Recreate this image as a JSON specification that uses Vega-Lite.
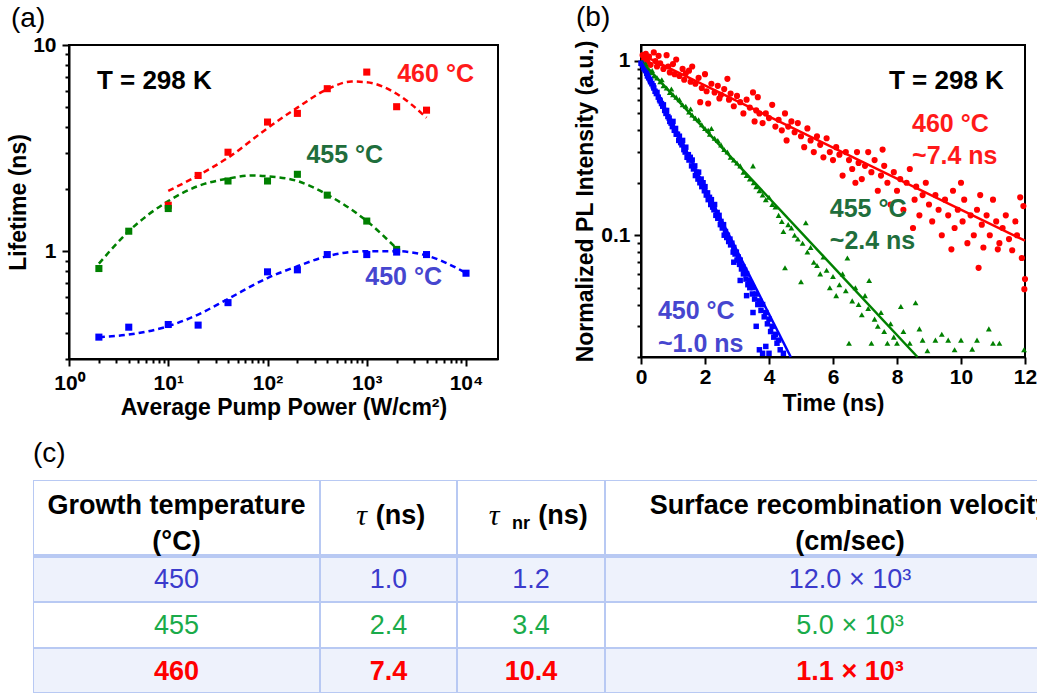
{
  "$schema": "https://vega.github.io/schema/vega-lite/v6.json",
  "padding": {"left": 6, "top": 2, "right": 0, "bottom": 0},
  "background": "white",
  "config": {
    "font": "Liberation Sans",
    "view": {"stroke": "#000", "strokeWidth": 2},
    "axis": {"domainColor": "#000", "domainWidth": 2, "tickColor": "#000", "tickWidth": 2, "labelColor": "#000", "titleColor": "#000", "labelFont": "Liberation Sans", "titleFont": "Liberation Sans", "labelFontSize": 21, "titleFontSize": 23, "labelFontWeight": "bold", "titleFontWeight": "bold", "grid": false, "labelOverlap": false, "labelFlush": false, "labelBound": false},
    "title": {"font": "Liberation Sans", "fontSize": 28, "fontWeight": "normal", "color": "#000"}
  },
  "datasets": {
    "aPts": [
      {"s": "460 °C", "p": 10, "tau": 1.67}, {"s": "460 °C", "p": 20, "tau": 2.33}, {"s": "460 °C", "p": 40, "tau": 3.02}, {"s": "460 °C", "p": 100, "tau": 4.23}, {"s": "460 °C", "p": 200, "tau": 4.66}, {"s": "460 °C", "p": 400, "tau": 6.14}, {"s": "460 °C", "p": 1000, "tau": 7.39}, {"s": "460 °C", "p": 2000, "tau": 5.02}, {"s": "460 °C", "p": 4000, "tau": 4.83},
      {"s": "455 °C", "p": 2, "tau": 0.824}, {"s": "455 °C", "p": 4, "tau": 1.25}, {"s": "455 °C", "p": 10, "tau": 1.61}, {"s": "455 °C", "p": 40, "tau": 2.19}, {"s": "455 °C", "p": 100, "tau": 2.19}, {"s": "455 °C", "p": 200, "tau": 2.36}, {"s": "455 °C", "p": 400, "tau": 1.87}, {"s": "455 °C", "p": 1000, "tau": 1.4}, {"s": "455 °C", "p": 2000, "tau": 1.02},
      {"s": "450 °C", "p": 2, "tau": 0.383}, {"s": "450 °C", "p": 4, "tau": 0.428}, {"s": "450 °C", "p": 10, "tau": 0.441}, {"s": "450 °C", "p": 20, "tau": 0.438}, {"s": "450 °C", "p": 40, "tau": 0.563}, {"s": "450 °C", "p": 100, "tau": 0.794}, {"s": "450 °C", "p": 200, "tau": 0.812}, {"s": "450 °C", "p": 400, "tau": 0.963}, {"s": "450 °C", "p": 1000, "tau": 0.963}, {"s": "450 °C", "p": 2000, "tau": 0.99}, {"s": "450 °C", "p": 4000, "tau": 0.963}, {"s": "450 °C", "p": 10000, "tau": 0.782}
    ],
    "aFit": [
      {"s": "460 °C", "p": 10, "tau": 1.96}, {"s": "460 °C", "p": 20, "tau": 2.33}, {"s": "460 °C", "p": 40, "tau": 2.84}, {"s": "460 °C", "p": 100, "tau": 3.95}, {"s": "460 °C", "p": 200, "tau": 4.97}, {"s": "460 °C", "p": 400, "tau": 6.1}, {"s": "460 °C", "p": 700, "tau": 6.65}, {"s": "460 °C", "p": 1000, "tau": 6.6}, {"s": "460 °C", "p": 2000, "tau": 5.8}, {"s": "460 °C", "p": 4000, "tau": 4.44},
      {"s": "455 °C", "p": 2, "tau": 0.87}, {"s": "455 °C", "p": 4, "tau": 1.25}, {"s": "455 °C", "p": 10, "tau": 1.75}, {"s": "455 °C", "p": 20, "tau": 2.07}, {"s": "455 °C", "p": 40, "tau": 2.25}, {"s": "455 °C", "p": 70, "tau": 2.33}, {"s": "455 °C", "p": 100, "tau": 2.31}, {"s": "455 °C", "p": 200, "tau": 2.19}, {"s": "455 °C", "p": 400, "tau": 1.88}, {"s": "455 °C", "p": 1000, "tau": 1.4}, {"s": "455 °C", "p": 2000, "tau": 1.03},
      {"s": "450 °C", "p": 2, "tau": 0.383}, {"s": "450 °C", "p": 4, "tau": 0.394}, {"s": "450 °C", "p": 10, "tau": 0.433}, {"s": "450 °C", "p": 20, "tau": 0.493}, {"s": "450 °C", "p": 40, "tau": 0.587}, {"s": "450 °C", "p": 100, "tau": 0.741}, {"s": "450 °C", "p": 200, "tau": 0.845}, {"s": "450 °C", "p": 400, "tau": 0.946}, {"s": "450 °C", "p": 1000, "tau": 1.0}, {"s": "450 °C", "p": 2000, "tau": 1.0}, {"s": "450 °C", "p": 4000, "tau": 0.953}, {"s": "450 °C", "p": 10000, "tau": 0.785}
    ],
    "aLbl": [
      {"s": "460 °C", "p": 2027, "tau": 7.22, "label": "460 °C"},
      {"s": "455 °C", "p": 246.6, "tau": 2.92, "label": "455 °C"},
      {"s": "450 °C", "p": 966, "tau": 0.748, "label": "450 °C"}
    ],
    "bFit": [
      {"s": "460 °C", "t": 0, "i": 1.09}, {"s": "460 °C", "t": 12, "i": 0.093},
      {"s": "455 °C", "t": 0, "i": 1.0}, {"s": "455 °C", "t": 8.64, "i": 0.02},
      {"s": "450 °C", "t": 0, "i": 1.0}, {"s": "450 °C", "t": 4.68, "i": 0.02}
    ],
    "bLbl": [
      {"s": "460 °C", "t": 8.47, "i": 0.435, "label": "460 °C"},
      {"s": "460 °C", "t": 8.47, "i": 0.285, "label": "~7.4 ns"},
      {"s": "455 °C", "t": 5.9, "i": 0.1415, "label": "455 °C"},
      {"s": "455 °C", "t": 5.9, "i": 0.0927, "label": "~2.4 ns"},
      {"s": "450 °C", "t": 0.53, "i": 0.0368, "label": "450 °C"},
      {"s": "450 °C", "t": 0.53, "i": 0.0238, "label": "~1.0 ns"}
    ],
    "bPts": [
      {"s":"460 °C","t":0.05,"i":1.08},{"s":"460 °C","t":0.1,"i":1.02},{"s":"460 °C","t":0.15,"i":1.1},{"s":"460 °C","t":0.2,"i":0.99},{"s":"460 °C","t":0.25,"i":1.06},{"s":"460 °C","t":0.3,"i":0.95},{"s":"460 °C","t":0.4,"i":1.12},{"s":"460 °C","t":0.45,"i":1.0},{"s":"460 °C","t":0.5,"i":0.93},{"s":"460 °C","t":0.55,"i":1.07},{"s":"460 °C","t":0.6,"i":0.97},{"s":"460 °C","t":0.7,"i":0.9},{"s":"460 °C","t":0.8,"i":1.08},{"s":"460 °C","t":0.85,"i":0.93},{"s":"460 °C","t":0.9,"i":0.86},{"s":"460 °C","t":1.0,"i":0.96},{"s":"460 °C","t":1.05,"i":0.84},{"s":"460 °C","t":1.1,"i":1.02},{"s":"460 °C","t":1.2,"i":0.82},{"s":"460 °C","t":1.3,"i":0.9},{"s":"460 °C","t":1.35,"i":0.78},{"s":"460 °C","t":1.4,"i":0.85},{"s":"460 °C","t":1.5,"i":0.88},{"s":"460 °C","t":1.55,"i":0.76},{"s":"460 °C","t":1.6,"i":0.93},{"s":"460 °C","t":1.7,"i":0.74},{"s":"460 °C","t":1.8,"i":0.8},{"s":"460 °C","t":1.85,"i":0.58},{"s":"460 °C","t":1.9,"i":0.7},{"s":"460 °C","t":2.0,"i":0.84},{"s":"460 °C","t":2.05,"i":0.67},{"s":"460 °C","t":2.1,"i":0.57},{"s":"460 °C","t":2.2,"i":0.74},{"s":"460 °C","t":2.3,"i":0.66},{"s":"460 °C","t":2.4,"i":0.72},{"s":"460 °C","t":2.45,"i":0.61},{"s":"460 °C","t":2.5,"i":0.64},{"s":"460 °C","t":2.6,"i":0.69},{"s":"460 °C","t":2.7,"i":0.79},{"s":"460 °C","t":2.75,"i":0.6},{"s":"460 °C","t":2.8,"i":0.65},{"s":"460 °C","t":2.9,"i":0.55},{"s":"460 °C","t":3.0,"i":0.63},{"s":"460 °C","t":3.1,"i":0.58},{"s":"460 °C","t":3.2,"i":0.5},{"s":"460 °C","t":3.3,"i":0.6},{"s":"460 °C","t":3.4,"i":0.54},{"s":"460 °C","t":3.5,"i":0.66},{"s":"460 °C","t":3.55,"i":0.45},{"s":"460 °C","t":3.6,"i":0.52},{"s":"460 °C","t":3.65,"i":0.62},{"s":"460 °C","t":3.7,"i":0.5},{"s":"460 °C","t":3.8,"i":0.44},{"s":"460 °C","t":3.9,"i":0.5},{"s":"460 °C","t":4.0,"i":0.47},{"s":"460 °C","t":4.1,"i":0.56},{"s":"460 °C","t":4.2,"i":0.42},{"s":"460 °C","t":4.3,"i":0.46},{"s":"460 °C","t":4.4,"i":0.4},{"s":"460 °C","t":4.5,"i":0.5},{"s":"460 °C","t":4.55,"i":0.35},{"s":"460 °C","t":4.6,"i":0.42},{"s":"460 °C","t":4.7,"i":0.45},{"s":"460 °C","t":4.8,"i":0.39},{"s":"460 °C","t":4.9,"i":0.44},{"s":"460 °C","t":5.0,"i":0.37},{"s":"460 °C","t":5.1,"i":0.32},{"s":"460 °C","t":5.2,"i":0.41},{"s":"460 °C","t":5.3,"i":0.35},{"s":"460 °C","t":5.4,"i":0.3},{"s":"460 °C","t":5.5,"i":0.37},{"s":"460 °C","t":5.6,"i":0.33},{"s":"460 °C","t":5.7,"i":0.28},{"s":"460 °C","t":5.8,"i":0.36},{"s":"460 °C","t":5.9,"i":0.3},{"s":"460 °C","t":6.0,"i":0.27},{"s":"460 °C","t":6.1,"i":0.32},{"s":"460 °C","t":6.2,"i":0.29},{"s":"460 °C","t":6.3,"i":0.22},{"s":"460 °C","t":6.4,"i":0.3},{"s":"460 °C","t":6.5,"i":0.27},{"s":"460 °C","t":6.6,"i":0.24},{"s":"460 °C","t":6.7,"i":0.2},{"s":"460 °C","t":6.75,"i":0.3},{"s":"460 °C","t":6.8,"i":0.26},{"s":"460 °C","t":6.9,"i":0.21},{"s":"460 °C","t":7.0,"i":0.25},{"s":"460 °C","t":7.1,"i":0.3},{"s":"460 °C","t":7.2,"i":0.23},{"s":"460 °C","t":7.3,"i":0.27},{"s":"460 °C","t":7.4,"i":0.18},{"s":"460 °C","t":7.5,"i":0.22},{"s":"460 °C","t":7.55,"i":0.31},{"s":"460 °C","t":7.6,"i":0.25},{"s":"460 °C","t":7.7,"i":0.2},{"s":"460 °C","t":7.8,"i":0.15},{"s":"460 °C","t":7.9,"i":0.23},{"s":"460 °C","t":8.0,"i":0.18},{"s":"460 °C","t":8.1,"i":0.21},{"s":"460 °C","t":8.2,"i":0.14},{"s":"460 °C","t":8.3,"i":0.2},{"s":"460 °C","t":8.4,"i":0.24},{"s":"460 °C","t":8.5,"i":0.11},{"s":"460 °C","t":8.55,"i":0.16},{"s":"460 °C","t":8.6,"i":0.19},{"s":"460 °C","t":8.7,"i":0.13},{"s":"460 °C","t":8.8,"i":0.17},{"s":"460 °C","t":8.9,"i":0.2},{"s":"460 °C","t":9.0,"i":0.15},{"s":"460 °C","t":9.1,"i":0.12},{"s":"460 °C","t":9.2,"i":0.17},{"s":"460 °C","t":9.3,"i":0.14},{"s":"460 °C","t":9.4,"i":0.1},{"s":"460 °C","t":9.5,"i":0.16},{"s":"460 °C","t":9.6,"i":0.13},{"s":"460 °C","t":9.7,"i":0.083},{"s":"460 °C","t":9.75,"i":0.18},{"s":"460 °C","t":9.8,"i":0.11},{"s":"460 °C","t":9.9,"i":0.14},{"s":"460 °C","t":10.0,"i":0.2},{"s":"460 °C","t":10.05,"i":0.12},{"s":"460 °C","t":10.1,"i":0.16},{"s":"460 °C","t":10.2,"i":0.09},{"s":"460 °C","t":10.3,"i":0.13},{"s":"460 °C","t":10.4,"i":0.1},{"s":"460 °C","t":10.5,"i":0.14},{"s":"460 °C","t":10.55,"i":0.065},{"s":"460 °C","t":10.6,"i":0.17},{"s":"460 °C","t":10.65,"i":0.115},{"s":"460 °C","t":10.7,"i":0.085},{"s":"460 °C","t":10.8,"i":0.13},{"s":"460 °C","t":10.9,"i":0.1},{"s":"460 °C","t":11.0,"i":0.16},{"s":"460 °C","t":11.1,"i":0.12},{"s":"460 °C","t":11.15,"i":0.083},{"s":"460 °C","t":11.2,"i":0.09},{"s":"460 °C","t":11.3,"i":0.11},{"s":"460 °C","t":11.4,"i":0.13},{"s":"460 °C","t":11.5,"i":0.095},{"s":"460 °C","t":11.6,"i":0.082},{"s":"460 °C","t":11.7,"i":0.12},{"s":"460 °C","t":11.75,"i":0.1},{"s":"460 °C","t":11.85,"i":0.165},{"s":"460 °C","t":11.9,"i":0.074},{"s":"460 °C","t":11.95,"i":0.147},{"s":"460 °C","t":12.0,"i":0.056},{"s":"460 °C","t":11.98,"i":0.049},
      {"s":"455 °C","t":0.05,"i":0.98},{"s":"455 °C","t":0.1,"i":0.93},{"s":"455 °C","t":0.15,"i":0.96},{"s":"455 °C","t":0.2,"i":0.9},{"s":"455 °C","t":0.3,"i":0.86},{"s":"455 °C","t":0.35,"i":0.88},{"s":"455 °C","t":0.4,"i":0.82},{"s":"455 °C","t":0.5,"i":0.8},{"s":"455 °C","t":0.6,"i":0.76},{"s":"455 °C","t":0.65,"i":0.78},{"s":"455 °C","t":0.7,"i":0.72},{"s":"455 °C","t":0.8,"i":0.7},{"s":"455 °C","t":0.9,"i":0.66},{"s":"455 °C","t":0.95,"i":0.69},{"s":"455 °C","t":1.0,"i":0.64},{"s":"455 °C","t":1.1,"i":0.62},{"s":"455 °C","t":1.2,"i":0.6},{"s":"455 °C","t":1.3,"i":0.56},{"s":"455 °C","t":1.4,"i":0.55},{"s":"455 °C","t":1.5,"i":0.51},{"s":"455 °C","t":1.55,"i":0.53},{"s":"455 °C","t":1.6,"i":0.49},{"s":"455 °C","t":1.7,"i":0.47},{"s":"455 °C","t":1.8,"i":0.46},{"s":"455 °C","t":1.9,"i":0.43},{"s":"455 °C","t":2.0,"i":0.41},{"s":"455 °C","t":2.1,"i":0.4},{"s":"455 °C","t":2.15,"i":0.38},{"s":"455 °C","t":2.2,"i":0.41},{"s":"455 °C","t":2.3,"i":0.36},{"s":"455 °C","t":2.4,"i":0.35},{"s":"455 °C","t":2.5,"i":0.33},{"s":"455 °C","t":2.6,"i":0.31},{"s":"455 °C","t":2.7,"i":0.3},{"s":"455 °C","t":2.8,"i":0.28},{"s":"455 °C","t":2.9,"i":0.27},{"s":"455 °C","t":3.0,"i":0.26},{"s":"455 °C","t":3.1,"i":0.25},{"s":"455 °C","t":3.2,"i":0.23},{"s":"455 °C","t":3.3,"i":0.22},{"s":"455 °C","t":3.4,"i":0.21},{"s":"455 °C","t":3.5,"i":0.25},{"s":"455 °C","t":3.52,"i":0.2},{"s":"455 °C","t":3.6,"i":0.19},{"s":"455 °C","t":3.7,"i":0.18},{"s":"455 °C","t":3.8,"i":0.17},{"s":"455 °C","t":3.9,"i":0.16},{"s":"455 °C","t":4.0,"i":0.165},{"s":"455 °C","t":4.1,"i":0.15},{"s":"455 °C","t":4.2,"i":0.145},{"s":"455 °C","t":4.3,"i":0.13},{"s":"455 °C","t":4.4,"i":0.12},{"s":"455 °C","t":4.45,"i":0.105},{"s":"455 °C","t":4.5,"i":0.065},{"s":"455 °C","t":4.6,"i":0.115},{"s":"455 °C","t":4.7,"i":0.11},{"s":"455 °C","t":4.8,"i":0.1},{"s":"455 °C","t":4.9,"i":0.095},{"s":"455 °C","t":5.0,"i":0.054},{"s":"455 °C","t":5.05,"i":0.09},{"s":"455 °C","t":5.15,"i":0.118},{"s":"455 °C","t":5.2,"i":0.08},{"s":"455 °C","t":5.3,"i":0.085},{"s":"455 °C","t":5.4,"i":0.07},{"s":"455 °C","t":5.5,"i":0.067},{"s":"455 °C","t":5.6,"i":0.06},{"s":"455 °C","t":5.7,"i":0.075},{"s":"455 °C","t":5.8,"i":0.063},{"s":"455 °C","t":5.9,"i":0.05},{"s":"455 °C","t":6.0,"i":0.058},{"s":"455 °C","t":6.1,"i":0.045},{"s":"455 °C","t":6.2,"i":0.052},{"s":"455 °C","t":6.3,"i":0.06},{"s":"455 °C","t":6.4,"i":0.048},{"s":"455 °C","t":6.45,"i":0.074},{"s":"455 °C","t":6.5,"i":0.024},{"s":"455 °C","t":6.6,"i":0.042},{"s":"455 °C","t":6.7,"i":0.05},{"s":"455 °C","t":6.8,"i":0.04},{"s":"455 °C","t":6.9,"i":0.035},{"s":"455 °C","t":7.0,"i":0.045},{"s":"455 °C","t":7.1,"i":0.038},{"s":"455 °C","t":7.13,"i":0.055},{"s":"455 °C","t":7.2,"i":0.024},{"s":"455 °C","t":7.3,"i":0.033},{"s":"455 °C","t":7.4,"i":0.03},{"s":"455 °C","t":7.5,"i":0.036},{"s":"455 °C","t":7.6,"i":0.028},{"s":"455 °C","t":7.7,"i":0.024},{"s":"455 °C","t":7.8,"i":0.031},{"s":"455 °C","t":7.9,"i":0.026},{"s":"455 °C","t":8.0,"i":0.024},{"s":"455 °C","t":8.12,"i":0.039},{"s":"455 °C","t":8.2,"i":0.028},{"s":"455 °C","t":8.4,"i":0.024},{"s":"455 °C","t":8.58,"i":0.041},{"s":"455 °C","t":8.7,"i":0.029},{"s":"455 °C","t":8.8,"i":0.025},{"s":"455 °C","t":8.95,"i":0.0217},{"s":"455 °C","t":9.2,"i":0.025},{"s":"455 °C","t":9.4,"i":0.027},{"s":"455 °C","t":9.6,"i":0.025},{"s":"455 °C","t":9.8,"i":0.022},{"s":"455 °C","t":10.0,"i":0.025},{"s":"455 °C","t":10.35,"i":0.0222},{"s":"455 °C","t":10.5,"i":0.025},{"s":"455 °C","t":10.87,"i":0.029},{"s":"455 °C","t":11.0,"i":0.024},{"s":"455 °C","t":11.2,"i":0.024},{"s":"455 °C","t":11.97,"i":0.022},
      {"s":"450 °C","t":0.0,"i":0.97},{"s":"450 °C","t":0.04,"i":0.95},{"s":"450 °C","t":0.08,"i":0.92},{"s":"450 °C","t":0.1,"i":0.9},{"s":"450 °C","t":0.14,"i":0.88},{"s":"450 °C","t":0.18,"i":0.85},{"s":"450 °C","t":0.2,"i":0.82},{"s":"450 °C","t":0.24,"i":0.8},{"s":"450 °C","t":0.28,"i":0.78},{"s":"450 °C","t":0.3,"i":0.76},{"s":"450 °C","t":0.34,"i":0.74},{"s":"450 °C","t":0.38,"i":0.72},{"s":"450 °C","t":0.4,"i":0.7},{"s":"450 °C","t":0.44,"i":0.67},{"s":"450 °C","t":0.48,"i":0.65},{"s":"450 °C","t":0.5,"i":0.66},{"s":"450 °C","t":0.54,"i":0.62},{"s":"450 °C","t":0.58,"i":0.6},{"s":"450 °C","t":0.6,"i":0.59},{"s":"450 °C","t":0.64,"i":0.57},{"s":"450 °C","t":0.68,"i":0.55},{"s":"450 °C","t":0.7,"i":0.56},{"s":"450 °C","t":0.74,"i":0.52},{"s":"450 °C","t":0.78,"i":0.5},{"s":"450 °C","t":0.8,"i":0.52},{"s":"450 °C","t":0.84,"i":0.48},{"s":"450 °C","t":0.88,"i":0.47},{"s":"450 °C","t":0.9,"i":0.45},{"s":"450 °C","t":0.94,"i":0.44},{"s":"450 °C","t":0.98,"i":0.42},{"s":"450 °C","t":1.0,"i":0.45},{"s":"450 °C","t":1.04,"i":0.4},{"s":"450 °C","t":1.08,"i":0.41},{"s":"450 °C","t":1.1,"i":0.38},{"s":"450 °C","t":1.14,"i":0.38},{"s":"450 °C","t":1.18,"i":0.35},{"s":"450 °C","t":1.2,"i":0.37},{"s":"450 °C","t":1.24,"i":0.34},{"s":"450 °C","t":1.28,"i":0.33},{"s":"450 °C","t":1.3,"i":0.35},{"s":"450 °C","t":1.34,"i":0.31},{"s":"450 °C","t":1.38,"i":0.3},{"s":"450 °C","t":1.4,"i":0.32},{"s":"450 °C","t":1.44,"i":0.28},{"s":"450 °C","t":1.48,"i":0.29},{"s":"450 °C","t":1.5,"i":0.27},{"s":"450 °C","t":1.54,"i":0.28},{"s":"450 °C","t":1.58,"i":0.25},{"s":"450 °C","t":1.6,"i":0.27},{"s":"450 °C","t":1.64,"i":0.24},{"s":"450 °C","t":1.68,"i":0.25},{"s":"450 °C","t":1.7,"i":0.22},{"s":"450 °C","t":1.74,"i":0.23},{"s":"450 °C","t":1.78,"i":0.21},{"s":"450 °C","t":1.8,"i":0.23},{"s":"450 °C","t":1.84,"i":0.2},{"s":"450 °C","t":1.88,"i":0.21},{"s":"450 °C","t":1.9,"i":0.19},{"s":"450 °C","t":1.94,"i":0.2},{"s":"450 °C","t":1.98,"i":0.18},{"s":"450 °C","t":2.0,"i":0.19},{"s":"450 °C","t":2.04,"i":0.17},{"s":"450 °C","t":2.08,"i":0.175},{"s":"450 °C","t":2.1,"i":0.16},{"s":"450 °C","t":2.14,"i":0.165},{"s":"450 °C","t":2.18,"i":0.15},{"s":"450 °C","t":2.2,"i":0.16},{"s":"450 °C","t":2.24,"i":0.145},{"s":"450 °C","t":2.28,"i":0.14},{"s":"450 °C","t":2.3,"i":0.15},{"s":"450 °C","t":2.34,"i":0.13},{"s":"450 °C","t":2.38,"i":0.135},{"s":"450 °C","t":2.4,"i":0.125},{"s":"450 °C","t":2.44,"i":0.13},{"s":"450 °C","t":2.48,"i":0.115},{"s":"450 °C","t":2.5,"i":0.12},{"s":"450 °C","t":2.54,"i":0.11},{"s":"450 °C","t":2.58,"i":0.115},{"s":"450 °C","t":2.6,"i":0.1},{"s":"450 °C","t":2.64,"i":0.105},{"s":"450 °C","t":2.68,"i":0.097},{"s":"450 °C","t":2.7,"i":0.1},{"s":"450 °C","t":2.74,"i":0.092},{"s":"450 °C","t":2.78,"i":0.095},{"s":"450 °C","t":2.8,"i":0.088},{"s":"450 °C","t":2.84,"i":0.09},{"s":"450 °C","t":2.88,"i":0.08},{"s":"450 °C","t":2.9,"i":0.085},{"s":"450 °C","t":2.94,"i":0.078},{"s":"450 °C","t":2.98,"i":0.08},{"s":"450 °C","t":3.0,"i":0.072},{"s":"450 °C","t":3.04,"i":0.075},{"s":"450 °C","t":3.08,"i":0.068},{"s":"450 °C","t":3.1,"i":0.072},{"s":"450 °C","t":3.14,"i":0.064},{"s":"450 °C","t":3.18,"i":0.066},{"s":"450 °C","t":3.2,"i":0.06},{"s":"450 °C","t":3.24,"i":0.063},{"s":"450 °C","t":3.28,"i":0.056},{"s":"450 °C","t":3.3,"i":0.06},{"s":"450 °C","t":3.34,"i":0.052},{"s":"450 °C","t":3.38,"i":0.055},{"s":"450 °C","t":3.4,"i":0.05},{"s":"450 °C","t":3.44,"i":0.052},{"s":"450 °C","t":3.48,"i":0.046},{"s":"450 °C","t":3.5,"i":0.05},{"s":"450 °C","t":3.55,"i":0.043},{"s":"450 °C","t":3.6,"i":0.046},{"s":"450 °C","t":3.65,"i":0.04},{"s":"450 °C","t":3.7,"i":0.042},{"s":"450 °C","t":3.75,"i":0.037},{"s":"450 °C","t":3.8,"i":0.04},{"s":"450 °C","t":3.85,"i":0.034},{"s":"450 °C","t":3.9,"i":0.036},{"s":"450 °C","t":3.95,"i":0.031},{"s":"450 °C","t":4.0,"i":0.033},{"s":"450 °C","t":4.05,"i":0.028},{"s":"450 °C","t":4.1,"i":0.03},{"s":"450 °C","t":4.15,"i":0.026},{"s":"450 °C","t":4.2,"i":0.027},{"s":"450 °C","t":4.25,"i":0.024},{"s":"450 °C","t":4.3,"i":0.025},{"s":"450 °C","t":4.35,"i":0.022},{"s":"450 °C","t":4.45,"i":0.021},{"s":"450 °C","t":3.7,"i":0.022},{"s":"450 °C","t":3.8,"i":0.021},{"s":"450 °C","t":3.9,"i":0.023},{"s":"450 °C","t":4.0,"i":0.021},{"s":"450 °C","t":3.6,"i":0.03},{"s":"450 °C","t":3.5,"i":0.036},{"s":"450 °C","t":3.3,"i":0.045},{"s":"450 °C","t":3.1,"i":0.055},{"s":"450 °C","t":2.9,"i":0.07}
    ],
    "cells": [
      {"r0": 0, "r1": 1, "c0": 0, "c1": 1, "g": "header", "text": "Growth temperature\n(°C)"},
      {"r0": 0, "r1": 1, "c0": 1, "c1": 2, "g": "header", "text": "(ns)"},
      {"r0": 0, "r1": 1, "c0": 2, "c1": 3, "g": "header", "text": "(ns)"},
      {"r0": 0, "r1": 1, "c0": 3, "c1": 4, "g": "header", "text": "Surface recombination velocity\n(cm/sec)"},
      {"r0": 1, "r1": 2, "c0": 0, "c1": 1, "g": "450", "text": "450"},
      {"r0": 1, "r1": 2, "c0": 1, "c1": 2, "g": "450", "text": "1.0"},
      {"r0": 1, "r1": 2, "c0": 2, "c1": 3, "g": "450", "text": "1.2"},
      {"r0": 1, "r1": 2, "c0": 3, "c1": 4, "g": "450", "text": "12.0 × 10³"},
      {"r0": 2, "r1": 3, "c0": 0, "c1": 1, "g": "455", "text": "455"},
      {"r0": 2, "r1": 3, "c0": 1, "c1": 2, "g": "455", "text": "2.4"},
      {"r0": 2, "r1": 3, "c0": 2, "c1": 3, "g": "455", "text": "3.4"},
      {"r0": 2, "r1": 3, "c0": 3, "c1": 4, "g": "455", "text": "5.0 × 10³"},
      {"r0": 3, "r1": 4, "c0": 0, "c1": 1, "g": "460", "text": "460"},
      {"r0": 3, "r1": 4, "c0": 1, "c1": 2, "g": "460", "text": "7.4"},
      {"r0": 3, "r1": 4, "c0": 2, "c1": 3, "g": "460", "text": "10.4"},
      {"r0": 3, "r1": 4, "c0": 3, "c1": 4, "g": "460", "text": "1.1 × 10³"}
    ]
  },
  "vconcat": [
    {
      "hconcat": [
        {"width": 36, "height": 314, "view": {"stroke": null}, "data": {"values": []}, "mark": "text"},
        {
          "width": 429, "height": 314,
          "title": {"text": "(a)", "anchor": "start", "frame": "group", "dx": -58, "offset": -13, "baseline": "middle"},
          "layer": [
            {
              "data": {"name": "aFit"},
              "mark": {"type": "line", "strokeDash": [6, 4], "strokeWidth": 2.5, "interpolate": "monotone"},
              "encoding": {
                "x": {"field": "p", "type": "quantitative", "scale": {"type": "log", "domain": [1, 21000], "nice": false},
                  "axis": {"title": "Average Pump Power (W/cm²)", "values": [1,2,3,4,5,6,7,8,9,10,20,30,40,50,60,70,80,90,100,200,300,400,500,600,700,800,900,1000,2000,3000,4000,5000,6000,7000,8000,9000,10000],
                    "labelExpr": "datum.value==1?'10⁰':datum.value==10?'10¹':datum.value==100?'10²':datum.value==1000?'10³':datum.value==10000?'10⁴':''",
                    "tickSize": {"condition": {"test": "datum.value==1||datum.value==10||datum.value==100||datum.value==1000||datum.value==10000", "value": 7}, "value": 4},
                    "labelPadding": 6, "titlePadding": 3}},
                "y": {"field": "tau", "type": "quantitative", "scale": {"type": "log", "domain": [0.3, 10], "nice": false},
                  "axis": {"title": "Lifetime (ns)", "values": [0.3,0.4,0.5,0.6,0.7,0.8,0.9,1,2,3,4,5,6,7,8,9,10],
                    "labelExpr": "datum.value==1?'1':datum.value==10?'10':''",
                    "tickSize": {"condition": {"test": "datum.value==1||datum.value==10", "value": 7}, "value": 4},
                    "labelPadding": 6, "titlePadding": 2}},
                "color": {"field": "s", "type": "nominal", "scale": {"domain": ["450 °C", "455 °C", "460 °C"], "range": ["#0000ff", "#008000", "#ff0000"]}, "legend": null}
              }
            },
            {
              "data": {"name": "aPts"},
              "mark": {"type": "square", "size": 50, "opacity": 1},
              "encoding": {
                "x": {"field": "p", "type": "quantitative"},
                "y": {"field": "tau", "type": "quantitative"},
                "color": {"field": "s", "type": "nominal"}
              }
            },
            {
              "data": {"name": "aLbl"},
              "mark": {"type": "text", "align": "left", "baseline": "middle", "fontSize": 25, "fontWeight": "bold"},
              "encoding": {
                "x": {"field": "p", "type": "quantitative"},
                "y": {"field": "tau", "type": "quantitative"},
                "text": {"field": "label", "type": "nominal"},
                "fill": {"field": "s", "type": "nominal", "scale": {"domain": ["450 °C", "455 °C", "460 °C"], "range": ["#4646cf", "#1f6e3c", "#ff1a1a"]}, "legend": null}
              }
            },
            {
              "data": {"values": [{"p": 1.91, "tau": 6.68, "label": "T = 298 K"}]},
              "mark": {"type": "text", "align": "left", "baseline": "middle", "fontSize": 26, "fontWeight": "bold", "color": "#000"},
              "encoding": {
                "x": {"field": "p", "type": "quantitative"},
                "y": {"field": "tau", "type": "quantitative"},
                "text": {"field": "label", "type": "nominal"}
              }
            }
          ]
        },
        {"width": 143, "height": 314, "view": {"stroke": null}, "data": {"values": []}, "mark": "text"},
        {
          "width": 384, "height": 312,
          "title": {"text": "(b)", "anchor": "start", "frame": "group", "dx": -65, "offset": -6, "baseline": "middle"},
          "layer": [
            {
              "data": {"name": "bPts"},
              "mark": {"type": "point", "filled": true, "opacity": 1},
              "encoding": {
                "x": {"field": "t", "type": "quantitative", "scale": {"domain": [0, 12], "nice": false, "zero": false},
                  "axis": {"title": "Time (ns)", "values": [0,1,2,3,4,5,6,7,8,9,10,11,12],
                    "labelExpr": "datum.value%2==0?datum.label:''",
                    "tickSize": {"condition": {"test": "datum.value%2==0", "value": 7}, "value": 4},
                    "labelPadding": 2, "titlePadding": 5}},
                "y": {"field": "i", "type": "quantitative", "scale": {"type": "log", "domain": [0.02, 1.235], "nice": false},
                  "axis": {"title": "Normalized PL Intensity (a.u.)", "values": [0.02,0.03,0.04,0.05,0.06,0.07,0.08,0.09,0.1,0.2,0.3,0.4,0.5,0.6,0.7,0.8,0.9,1],
                    "labelExpr": "datum.value==1?'1':datum.value==0.1?'0.1':''",
                    "tickSize": {"condition": {"test": "datum.value==1||datum.value==0.1", "value": 7}, "value": 4},
                    "labelPadding": 4, "titlePadding": 3}},
                "color": {"field": "s", "type": "nominal", "scale": {"domain": ["450 °C", "455 °C", "460 °C"], "range": ["#0000ff", "#008000", "#ff0000"]}, "legend": null},
                "shape": {"field": "s", "type": "nominal", "scale": {"domain": ["450 °C", "455 °C", "460 °C"], "range": ["square", "triangle-up", "circle"]}, "legend": null},
                "size": {"field": "s", "type": "nominal", "scale": {"domain": ["450 °C", "455 °C", "460 °C"], "range": [30, 38, 40]}, "legend": null}
              }
            },
            {
              "data": {"name": "bFit"},
              "mark": {"type": "line", "strokeWidth": 2.5},
              "encoding": {
                "x": {"field": "t", "type": "quantitative"},
                "y": {"field": "i", "type": "quantitative"},
                "color": {"field": "s", "type": "nominal"}
              }
            },
            {
              "data": {"name": "bLbl"},
              "mark": {"type": "text", "align": "left", "baseline": "middle", "fontSize": 25, "fontWeight": "bold"},
              "encoding": {
                "x": {"field": "t", "type": "quantitative"},
                "y": {"field": "i", "type": "quantitative"},
                "text": {"field": "label", "type": "nominal"},
                "fill": {"field": "s", "type": "nominal", "scale": {"domain": ["450 °C", "455 °C", "460 °C"], "range": ["#4646cf", "#1f6e3c", "#ff1a1a"]}, "legend": null}
              }
            },
            {
              "data": {"values": [{"t": 7.75, "i": 0.768, "label": "T = 298 K"}]},
              "mark": {"type": "text", "align": "left", "baseline": "middle", "fontSize": 26, "fontWeight": "bold", "color": "#000"},
              "encoding": {
                "x": {"field": "t", "type": "quantitative"},
                "y": {"field": "i", "type": "quantitative"},
                "text": {"field": "label", "type": "nominal"}
              }
            }
          ]
        }
      ],
      "spacing": 0,
      "bounds": "flush"
    },
    {
      "width": 1005, "height": 213,
      "view": {"stroke": null},
      "title": {"text": "(c)", "anchor": "start", "frame": "group", "dx": 0, "offset": -2, "baseline": "middle"},
      "layer": [
        {
          "layer": [
            {
              "data": {"name": "cells"},
              "mark": {"type": "rect", "stroke": "#b8c9f3", "strokeWidth": 2, "clip": true},
              "encoding": {
                "x": {"field": "c0", "type": "quantitative", "scale": {"domain": [0, 1, 2, 3, 4], "range": [0, 287, 424, 572, 1062], "nice": false, "zero": false}, "axis": null},
                "x2": {"field": "c1"},
                "y": {"field": "r0", "type": "quantitative", "scale": {"domain": [0, 1, 2, 3, 4], "range": [0, 76, 122, 168, 213], "nice": false, "zero": false}, "axis": null},
                "y2": {"field": "r1"},
                "fill": {"field": "g", "type": "nominal", "scale": {"domain": ["header", "450", "455", "460"], "range": ["#ffffff", "#eef2fc", "#ffffff", "#eef2fc"]}, "legend": null}
              }
            },
            {
              "data": {"values": [{"b": 1}]},
              "mark": {"type": "rule", "stroke": "#b8c9f3", "strokeWidth": 4, "clip": true},
              "encoding": {
                "y": {"field": "b", "type": "quantitative"},
                "x": {"datum": 0},
                "x2": {"datum": 4}
              }
            }
          ]
        },
        {
          "encoding": {
            "x": {"field": "c0", "type": "quantitative", "scale": {"domain": [0, 1, 2, 3], "range": [143.5, 355.5, 498, 817], "nice": false, "zero": false}, "axis": null},
            "y": {"field": "r0", "type": "quantitative", "scale": {"domain": [0, 1, 2, 3], "range": [38, 99, 145, 190.5], "nice": false, "zero": false}, "axis": null}
          },
          "layer": [
            {
              "data": {"name": "cells"},
              "transform": [{"filter": "datum.r0 == 0 && datum.c0 == 0"}],
              "mark": {"type": "text", "fontSize": 27, "fontWeight": "bold", "color": "#000", "lineBreak": "\n", "lineHeight": 36, "baseline": "middle", "align": "center", "dy": -12},
              "encoding": {"text": {"field": "text", "type": "nominal"}}
            },
            {
              "data": {"name": "cells"},
              "transform": [{"filter": "datum.r0 == 0 && datum.c0 == 3"}],
              "mark": {"type": "text", "fontSize": 27, "fontWeight": "bold", "color": "#000", "lineBreak": "\n", "lineHeight": 36, "baseline": "middle", "align": "center", "dy": -12, "clip": true},
              "encoding": {"text": {"field": "text", "type": "nominal"}}
            },
            {
              "data": {"name": "cells"},
              "transform": [{"filter": "datum.r0 == 0 && datum.c0 == 1"}],
              "mark": {"type": "text", "fontSize": 27, "fontWeight": "bold", "color": "#000", "baseline": "middle", "align": "center", "dx": 12, "dy": -2},
              "encoding": {"text": {"field": "text", "type": "nominal"}}
            },
            {
              "data": {"name": "cells"},
              "transform": [{"filter": "datum.r0 == 0 && datum.c0 == 2"}],
              "mark": {"type": "text", "fontSize": 27, "fontWeight": "bold", "color": "#000", "baseline": "middle", "align": "center", "dx": 32, "dy": -2},
              "encoding": {"text": {"field": "text", "type": "nominal"}}
            },
            {
              "data": {"values": [{"c0": 1, "r0": 0, "text": "τ"}]},
              "mark": {"type": "text", "font": "Liberation Serif", "fontSize": 30, "fontStyle": "italic", "color": "#000", "baseline": "middle", "align": "center", "dx": -27, "dy": -2},
              "encoding": {"text": {"field": "text", "type": "nominal"}}
            },
            {
              "data": {"values": [{"c0": 2, "r0": 0, "text": "τ"}]},
              "mark": {"type": "text", "font": "Liberation Serif", "fontSize": 30, "fontStyle": "italic", "color": "#000", "baseline": "middle", "align": "center", "dx": -37, "dy": -2},
              "encoding": {"text": {"field": "text", "type": "nominal"}}
            },
            {
              "data": {"values": [{"c0": 2, "r0": 0, "text": "nr"}]},
              "mark": {"type": "text", "fontSize": 18, "fontWeight": "bold", "color": "#000", "baseline": "middle", "align": "center", "dx": -10, "dy": 6},
              "encoding": {"text": {"field": "text", "type": "nominal"}}
            },
            {
              "data": {"name": "cells"},
              "transform": [{"filter": "datum.r0 == 1 || datum.r0 == 2"}],
              "mark": {"type": "text", "fontSize": 27, "fontWeight": "normal", "baseline": "middle", "align": "center", "dy": 1},
              "encoding": {
                "text": {"field": "text", "type": "nominal"},
                "color": {"field": "g", "type": "nominal", "scale": {"domain": ["450", "455"], "range": ["#3b3bcc", "#1aab4a"]}, "legend": null}
              }
            },
            {
              "data": {"name": "cells"},
              "transform": [{"filter": "datum.r0 == 3"}],
              "mark": {"type": "text", "fontSize": 27, "fontWeight": "bold", "color": "#ff0000", "baseline": "middle", "align": "center", "dy": 1},
              "encoding": {"text": {"field": "text", "type": "nominal"}}
            }
          ]
        }
      ],
      "resolve": {"scale": {"x": "independent", "y": "independent", "fill": "independent", "color": "independent"}}
    }
  ],
  "spacing": 20,
  "bounds": "full"
}
